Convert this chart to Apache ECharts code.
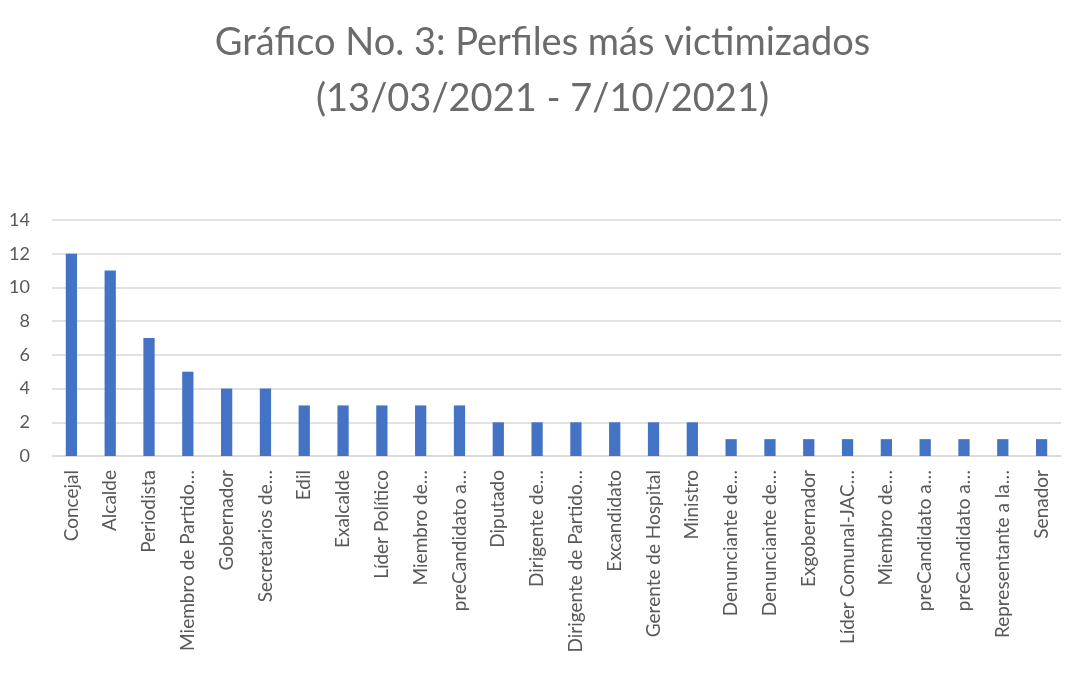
<!DOCTYPE html>
<html>
<head>
<meta charset="utf-8">
<script src="https://cdn.jsdelivr.net/npm/echarts@6/dist/echarts.min.js"></script>
<style>
  html, body { margin: 0; padding: 0; background: #fff; }
  #chart { width: 1085px; height: 675px; }
</style>
</head>
<body>
<div id="chart"></div>
<script>
var perfiles = [
    'Concejal', 'Alcalde', 'Periodista', 'Miembro de Partido…', 'Gobernador',
    'Secretarios de…', 'Edil', 'Exalcalde', 'Líder Político', 'Miembro de…',
    'preCandidato a…', 'Diputado', 'Dirigente de…', 'Dirigente de Partido…',
    'Excandidato', 'Gerente de Hospital', 'Ministro', 'Denunciante de…',
    'Denunciante de…', 'Exgobernador', 'Líder Comunal-JAC…', 'Miembro de…',
    'preCandidato a…', 'preCandidato a…', 'Representante a la…', 'Senador'
];
var casos = [12, 11, 7, 5, 4, 4, 3, 3, 3, 3, 3, 2, 2, 2, 2, 2, 2, 1, 1, 1, 1, 1, 1, 1, 1, 1];
var titulo = ['Gráfico No. 3: Perfiles más victimizados', '(13/03/2021 - 7/10/2021)'];

var myChart = echarts.init(document.getElementById('chart'));

var titleStyle = {
    color: '#6b6b6b',
    fontSize: 38,
    fontWeight: 'normal'
};

var option = {
    backgroundColor: '#ffffff',
    animation: false,
    textStyle: { fontFamily: 'Lato, "Open Sans", sans-serif' },
    title: [
        { text: titulo[0], left: 'center', top: 19, textStyle: titleStyle },
        { text: titulo[1], left: 'center', top: 75, textStyle: titleStyle }
    ],
    grid: {
        left: 52,
        right: 24,
        top: 220,
        bottom: 219
    },
    xAxis: {
        type: 'category',
        data: perfiles,
        axisLine: { lineStyle: { color: '#d9d9d9', width: 1.5 } },
        axisTick: { show: false },
        axisLabel: {
            rotate: 90,
            interval: 0,
            color: '#595959',
            fontSize: 19,
            margin: 14
        }
    },
    yAxis: {
        type: 'value',
        min: 0,
        max: 14,
        interval: 2,
        axisLine: { show: false },
        axisTick: { show: false },
        axisLabel: { color: '#595959', fontSize: 18, margin: 22 },
        splitLine: { lineStyle: { color: '#d9d9d9', width: 1.5 } }
    },
    series: [
        {
            name: 'Casos',
            type: 'bar',
            data: casos,
            barWidth: '29%',
            itemStyle: { color: '#4472c4' }
        }
    ]
};

myChart.setOption(option);
</script>
</body>
</html>
